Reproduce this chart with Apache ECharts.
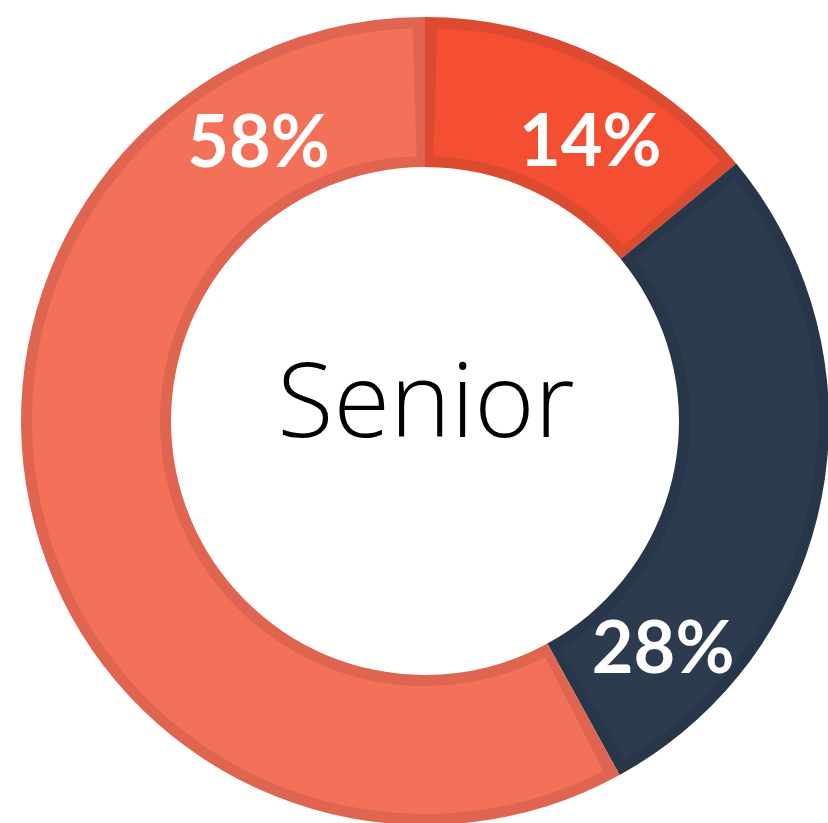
<!DOCTYPE html>
<head>
    <meta charset="utf-8"/>
    <style>
        html, body {
            height: 100%;
            margin: 0;
        }
        body {
            background-color: #fff;
        }
    </style>
    <script src="https://cdn.jsdelivr.net/npm/echarts@6/dist/echarts.min.js"></script>
</head>
<body>
<div id="main" style="height: 823px; width: 828px;"></div>
<script type="text/javascript">
 // data
 var names = ['A', 'B', 'C'];
 var values = [14, 28, 58];
 var labels = ['14%', '28%', '58%'];
 var fillColors = ['#F44F33', '#2D3B4F', '#F37059'];
 var edgeColors = ['#DC4B30', '#28364A', '#DF6550'];
 var labelOffsets = [[24, 22], [-88, 167], [155, -360]];
 var centerTitle = 'Senior';

 function buildData(colors, withLabel){
     var arr = [];
     for (var i = 0; i < values.length; i++) {
         var d = {
             name: names[i],
             value: values[i],
             itemStyle: { color: colors[i] }
         };
         if (withLabel) {
             d.label = { show: true, offset: labelOffsets[i], formatter: labels[i] };
         }
         arr.push(d);
     }
     return arr;
 }

 var myChart = echarts.init(document.getElementById('main'));
 var options = {
     animation: false,
     title: {
         text: centerTitle,
         left: 421,
         top: 351,
         textAlign: 'center',
         textStyle: {
             fontFamily: 'Open Sans',
             fontWeight: 300,
             fontSize: 103,
             color: '#000'
         }
     },
     series: [{
         //border layer
         type: 'pie',
         center: [425, 421],
         radius: [254, 404],
         startAngle: 90,
         clockwise: true,
         silent: true,
         label: { show: false },
         labelLine: { show: false },
         data: buildData(edgeColors, false)
     }, {
         type: 'pie',
         center: [425, 421],
         radius: [265, 393],
         startAngle: 90,
         clockwise: true,
         padAngle: 3.6,
         silent: true,
         label: {
             show: true,
             position: 'inside',
             color: '#fff',
             fontFamily: 'Lato',
             fontWeight: 'bold',
             fontSize: 72
         },
         labelLine: { show: false },
         data: buildData(fillColors, true)
     }]
 };
 myChart.setOption(options);
</script>
</body>
